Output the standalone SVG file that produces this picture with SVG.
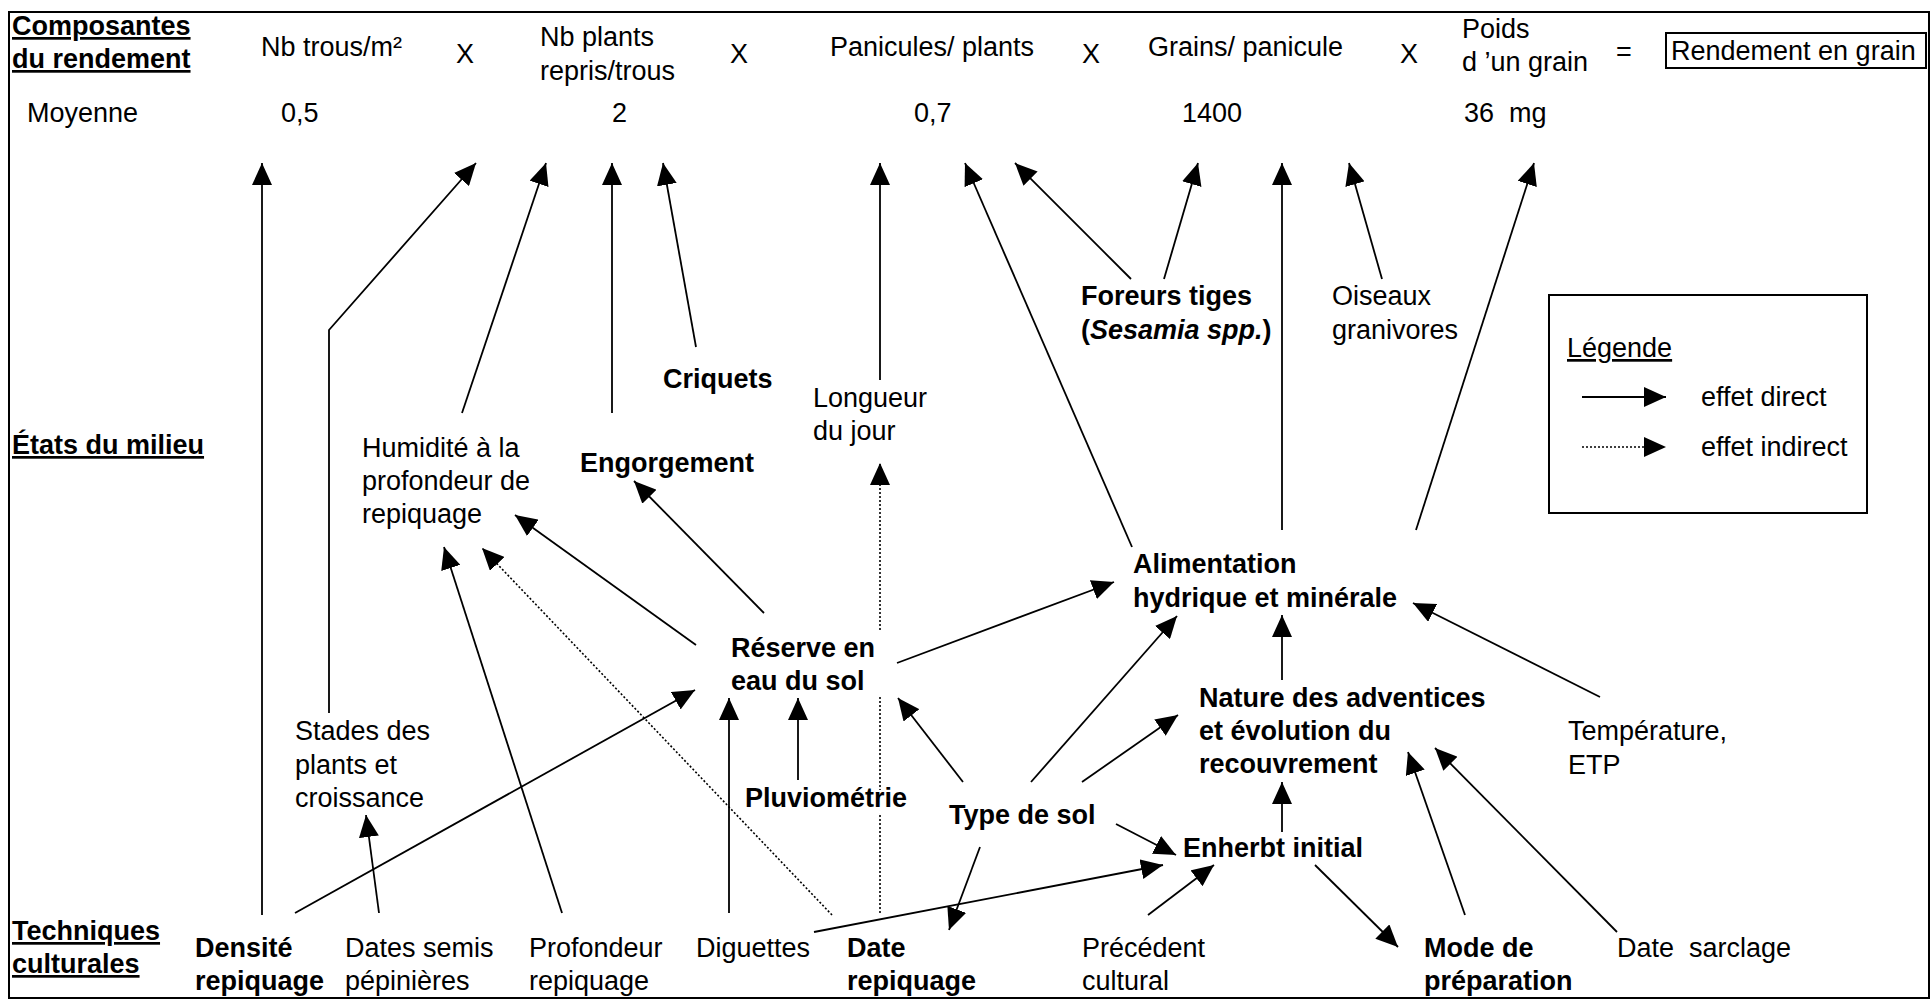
<svg xmlns="http://www.w3.org/2000/svg" width="1932" height="1000" viewBox="0 0 1932 1000">
<style>
text{font-family:"Liberation Sans",Arial,sans-serif;font-size:27px;fill:#000}
.b{font-weight:bold}
.u{text-decoration:underline}
.c line,.c polyline{stroke:#000;stroke-width:1.8;fill:none}
.c .d{stroke-width:1.6;stroke-dasharray:2 2}
</style>
<defs>
<marker id="ah" markerUnits="userSpaceOnUse" markerWidth="22" markerHeight="20" refX="22" refY="10" orient="auto">
<path d="M0,0 L22,10 L0,20 Z" fill="#000"/>
</marker>
</defs>
<rect x="9" y="12" width="1920" height="986" fill="#fff" stroke="#000" stroke-width="2"/>

<g id="header">
<text class="b u" x="12" y="35">Composantes</text>
<text class="b u" x="12" y="68">du rendement</text>
<text x="261" y="56">Nb trous/m²</text>
<text x="456" y="63">X</text>
<text x="540" y="46">Nb plants</text>
<text x="540" y="80">repris/trous</text>
<text x="730" y="63">X</text>
<text x="830" y="56">Panicules/ plants</text>
<text x="1082" y="63">X</text>
<text x="1148" y="56">Grains/ panicule</text>
<text x="1400" y="63">X</text>
<text x="1462" y="38">Poids</text>
<text x="1462" y="71">d ’un grain</text>
<text x="1616" y="61">=</text>
</g>
<g id="rendement">
<rect x="1666" y="33" width="260" height="35" fill="none" stroke="#000" stroke-width="2"/>
<text x="1671" y="60">Rendement en grain</text>
</g>
<g id="moyenne">
<text x="27" y="122">Moyenne</text>
<text x="281" y="122">0,5</text>
<text x="612" y="122">2</text>
<text x="914" y="122">0,7</text>
<text x="1182" y="122">1400</text>
<text x="1464" y="122">36 &#160;mg</text>
</g>
<g id="etats"><text class="b u" x="12" y="454">États du milieu</text></g>
<g id="techniques"><text class="b u" x="12" y="940">Techniques</text><text class="b u" x="12" y="973">culturales</text></g>

<g id="stades"><text x="295" y="740">Stades des</text><text x="295" y="774">plants et</text><text x="295" y="807">croissance</text></g>
<g id="humidite"><text x="362" y="457">Humidité à la</text><text x="362" y="490">profondeur de</text><text x="362" y="523">repiquage</text></g>
<g id="criquets"><text class="b" x="663" y="388">Criquets</text></g>
<g id="engorgement"><text class="b" x="580" y="472">Engorgement</text></g>
<g id="longueur"><text x="813" y="407">Longueur</text><text x="813" y="440">du jour</text></g>
<g id="foreurs"><text class="b" x="1081" y="305">Foreurs tiges</text><text class="b" x="1081" y="339">(<tspan font-style="italic">Sesamia spp.</tspan>)</text></g>
<g id="oiseaux"><text x="1332" y="305">Oiseaux</text><text x="1332" y="339">granivores</text></g>
<g id="reserve"><text class="b" x="731" y="657">Réserve en</text><text class="b" x="731" y="690">eau du sol</text></g>
<g id="alimentation"><text class="b" x="1133" y="573">Alimentation</text><text class="b" x="1133" y="607">hydrique et minérale</text></g>
<g id="nature"><text class="b" x="1199" y="707">Nature des adventices</text><text class="b" x="1199" y="740">et évolution du</text><text class="b" x="1199" y="773">recouvrement</text></g>
<g id="pluvio"><text class="b" x="745" y="807">Pluviométrie</text></g>
<g id="typesol"><text class="b" x="949" y="824">Type de sol</text></g>
<g id="enherbt"><text class="b" x="1183" y="857">Enherbt initial</text></g>
<g id="temperature"><text x="1568" y="740">Température,</text><text x="1568" y="774">ETP</text></g>

<g id="densite"><text class="b" x="195" y="957">Densité</text><text class="b" x="195" y="990">repiquage</text></g>
<g id="datessemis"><text x="345" y="957">Dates semis</text><text x="345" y="990">pépinières</text></g>
<g id="profondeur"><text x="529" y="957">Profondeur</text><text x="529" y="990">repiquage</text></g>
<g id="diguettes"><text x="696" y="957">Diguettes</text></g>
<g id="daterepiquage"><text class="b" x="847" y="957">Date</text><text class="b" x="847" y="990">repiquage</text></g>
<g id="precedent"><text x="1082" y="957">Précédent</text><text x="1082" y="990">cultural</text></g>
<g id="mode"><text class="b" x="1424" y="957">Mode de</text><text class="b" x="1424" y="990">préparation</text></g>
<g id="sarclage"><text x="1617" y="957">Date &#160;sarclage</text></g>

<g id="legende">
<rect x="1549" y="295" width="318" height="218" fill="none" stroke="#000" stroke-width="2"/>
<text class="u" x="1567" y="357">Légende</text>
<line x1="1582" y1="397" x2="1666" y2="397" stroke="#000" stroke-width="1.8" marker-end="url(#ah)"/>
<text x="1701" y="406">effet direct</text>
<line x1="1582" y1="447" x2="1666" y2="447" stroke="#000" stroke-width="1.6" stroke-dasharray="2 2" marker-end="url(#ah)"/>
<text x="1701" y="456">effet indirect</text>
</g>

<g id="connectors" class="c">
<line x1="262" y1="915" x2="262" y2="163" marker-end="url(#ah)"/>
<polyline points="329,713 329,330 476,163" marker-end="url(#ah)"/>
<line x1="462" y1="413" x2="546" y2="163" marker-end="url(#ah)"/>
<line x1="612" y1="413" x2="612" y2="163" marker-end="url(#ah)"/>
<line x1="696" y1="347" x2="663" y2="163" marker-end="url(#ah)"/>
<line x1="880" y1="380" x2="880" y2="163" marker-end="url(#ah)"/>
<line x1="1132" y1="547" x2="965" y2="163" marker-end="url(#ah)"/>
<line x1="1131" y1="279" x2="1015" y2="163" marker-end="url(#ah)"/>
<line x1="1164" y1="279" x2="1198" y2="163" marker-end="url(#ah)"/>
<line x1="1282" y1="530" x2="1282" y2="163" marker-end="url(#ah)"/>
<line x1="1382" y1="279" x2="1349" y2="163" marker-end="url(#ah)"/>
<line x1="1416" y1="530" x2="1534" y2="163" marker-end="url(#ah)"/>

<line x1="295" y1="913" x2="695" y2="690" marker-end="url(#ah)"/>
<line x1="379" y1="913" x2="366" y2="815" marker-end="url(#ah)"/>
<line x1="562" y1="913" x2="444" y2="547" marker-end="url(#ah)"/>
<line class="d" x1="832" y1="915" x2="482" y2="548" marker-end="url(#ah)"/>
<line x1="696" y1="645" x2="515" y2="515" marker-end="url(#ah)"/>
<line x1="764" y1="613" x2="634" y2="481" marker-end="url(#ah)"/>
<line x1="729" y1="913" x2="729" y2="698" marker-end="url(#ah)"/>
<line x1="798" y1="780" x2="798" y2="698" marker-end="url(#ah)"/>
<line class="d" x1="880" y1="630" x2="880" y2="463" marker-end="url(#ah)"/>
<line class="d" x1="880" y1="697" x2="880" y2="790"/>
<line class="d" x1="880" y1="815" x2="880" y2="915"/>
<line x1="963" y1="782" x2="898" y2="698" marker-end="url(#ah)"/>
<line x1="1031" y1="782" x2="1177" y2="616" marker-end="url(#ah)"/>
<line x1="1082" y1="782" x2="1178" y2="715" marker-end="url(#ah)"/>
<line x1="980" y1="847" x2="949" y2="930" marker-end="url(#ah)"/>
<line x1="1116" y1="824" x2="1176" y2="855" marker-end="url(#ah)"/>
<line x1="814" y1="932" x2="1163" y2="865" marker-end="url(#ah)"/>
<line x1="1148" y1="915" x2="1214" y2="865" marker-end="url(#ah)"/>
<line x1="1315" y1="865" x2="1398" y2="947" marker-end="url(#ah)"/>
<line x1="1282" y1="832" x2="1282" y2="782" marker-end="url(#ah)"/>
<line x1="1282" y1="680" x2="1282" y2="615" marker-end="url(#ah)"/>
<line x1="1465" y1="915" x2="1408" y2="752" marker-end="url(#ah)"/>
<line x1="1617" y1="932" x2="1435" y2="748" marker-end="url(#ah)"/>
<line x1="1600" y1="697" x2="1413" y2="603" marker-end="url(#ah)"/>
<line x1="897" y1="663" x2="1114" y2="582" marker-end="url(#ah)"/>
</g>
</svg>
